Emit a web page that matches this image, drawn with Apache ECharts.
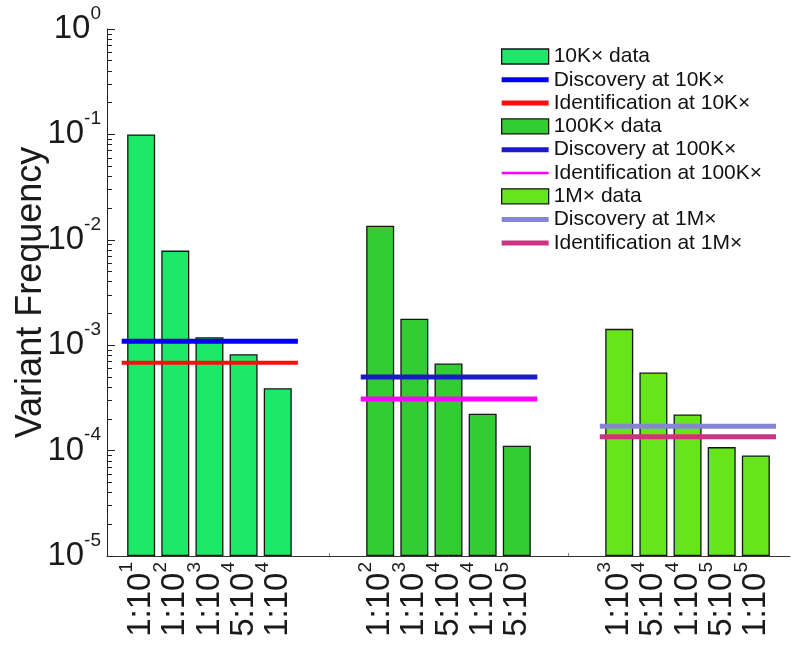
<!DOCTYPE html>
<html><head><meta charset="utf-8">
<script src="https://cdn.jsdelivr.net/npm/echarts@6/dist/echarts.min.js"></script>
<style>html,body{margin:0;padding:0;background:#fff}#c{width:800px;height:648px}</style>
</head><body><div id="c"></div>
<script>
// ---- data ----
const xPositions = [1,2,3,4,5, 8,9,10,11,12, 15,16,17,18,19];
const xTickLabels = ['1:10^1','1:10^2','1:10^3','5:10^4','1:10^4',
                     '1:10^2','1:10^3','5:10^4','1:10^4','5:10^5',
                     '1:10^3','5:10^4','1:10^4','5:10^5','1:10^5'];
const groupNames = ['10K×','100K×','1M×'];
const data10K  = [0.1, 7.9e-3, 1.19e-3, 8.2e-4, 3.9e-4];
const data100K = [1.36e-2, 1.78e-3, 6.7e-4, 2.24e-4, 1.11e-4];
const data1M   = [1.43e-3, 5.5e-4, 2.2e-4, 1.08e-4, 9.0e-5];
const discovery      = [1.09e-3, 4.99e-4, 1.70e-4];
const identification = [6.8e-4, 3.09e-4, 1.35e-4];
const groupSpans = [[0.43,5.59],[7.43,12.6],[14.43,19.59]];
const yTickExponents = [-5,-4,-3,-2,-1,0];

// ---- styles ----
const FONT = 'Liberation Sans';
const barColors = ['#1de86a','#33cc33','#66e61a'];
const discColors = ['#0000f2','#1a1acc','#8585d6'];
const identColors = ['#ff0d0d','#ff00ff','#cc3380'];
const groupData = [data10K, data100K, data1M];
const thickIcon = 'path://M0,0H94V10H0Z';
const thinIcon = 'path://M0,0H94V5H0Z';

const minorValues = [];
for (let e = -5; e < 0; e++) for (let k = 2; k <= 9; k++) minorValues.push(k * Math.pow(10, e));

// label order: first two and last two far apart so none is dropped by the min/max overlap check
const n = xPositions.length;
const labelOrder = [xPositions[0], xPositions[n - 1]]
  .concat(xPositions.slice(1, 5), xPositions.slice(6, n - 1), [xPositions[5]]);

function supLabel(base, exp) { return '{b|' + base + '}{s|' + exp + '}'; }
function makeRich(bs, ss, lh) {
  return {
    b: {fontSize: bs, fontFamily: FONT, color: '#1a1a1a', lineHeight: lh},
    s: {fontSize: ss, fontFamily: FONT, color: '#1a1a1a', lineHeight: ss, verticalAlign: 'top'}
  };
}

const series = [];
const legendData = [];
for (let g = 0; g < 3; g++) {
  const bName = groupNames[g] + ' data';
  series.push({
    type: 'bar', name: bName,
    data: groupData[g].map((v, i) => [xPositions[g * 5 + i], v]),
    barWidth: 28, barGap: '-100%',
    itemStyle: {color: barColors[g], borderColor: '#151515', borderWidth: 1.3}
  });
  legendData.push({name: bName, icon: 'rect', itemStyle: {borderColor: '#151515', borderWidth: 1.3}});
  const dName = 'Discovery at ' + groupNames[g];
  series.push({
    type: 'line', name: dName, symbol: 'none', z: 4,
    data: groupSpans[g].map(x => [x, discovery[g]]),
    lineStyle: {color: discColors[g], width: 5}, itemStyle: {color: discColors[g]}
  });
  legendData.push({name: dName, icon: thickIcon, itemStyle: {borderWidth: 0}});
  const iName = 'Identification at ' + groupNames[g];
  series.push({
    type: 'line', name: iName, symbol: 'none', z: 4,
    data: groupSpans[g].map(x => [x, identification[g]]),
    lineStyle: {color: identColors[g], width: g === 0 ? 4 : 5}, itemStyle: {color: identColors[g]}
  });
  legendData.push({name: iName, icon: g === 1 ? thinIcon : thickIcon, itemStyle: {borderWidth: 0}});
}

const chart = echarts.init(document.getElementById('c'), null, {renderer: 'canvas'});
chart.setOption({
  animation: false,
  backgroundColor: '#fff',
  grid: {left: 107, right: 10, top: 29, bottom: 92, containLabel: false, outerBoundsMode: 'none'},
  legend: {
    orient: 'vertical', left: 501, top: 46, padding: 0,
    itemWidth: 47, itemHeight: 15, itemGap: 2.3,
    textStyle: {fontSize: 21, fontFamily: FONT, color: '#111'},
    data: legendData
  },
  xAxis: {
    type: 'value', min: 0, max: 20,
    axisLine: {show: true, lineStyle: {color: '#333', width: 1}},
    splitLine: {show: false},
    axisTick: {show: true, inside: true, length: 3, customValues: [6.5, 13.5], lineStyle: {color: '#888'}},
    axisLabel: {
      customValues: labelOrder, rotate: 90, margin: 6, hideOverlap: false,
      formatter: function (v) {
        const idx = xPositions.indexOf(v);
        const parts = xTickLabels[idx].split('^');
        return supLabel(parts[0], parts[1]);
      },
      rich: makeRich(33, 19, 48)
    }
  },
  yAxis: [{
    type: 'log', logBase: 10, min: 1e-5, max: 1, startValue: 1e-5,
    axisLine: {show: true, lineStyle: {color: '#222', width: 1}},
    splitLine: {show: false},
    axisTick: {show: true, inside: true, length: 8, customValues: yTickExponents.map(e => Math.pow(10, e)), lineStyle: {color: '#222'}},
    axisLabel: {
      customValues: yTickExponents.map(e => Math.pow(10, e)), margin: 6,
      showMinLabel: true, showMaxLabel: true,
      formatter: function (v) { return supLabel('10', Math.round(Math.log10(v))); },
      rich: makeRich(33, 19, 50)
    },
    name: 'Variant Frequency', nameLocation: 'middle', nameGap: 58, nameMoveOverlap: false,
    nameTextStyle: {fontSize: 36, fontFamily: FONT, color: '#1a1a1a'}
  }, {
    type: 'log', logBase: 10, min: 1e-5, max: 1, position: 'left',
    axisLine: {show: false}, splitLine: {show: false}, axisLabel: {show: false},
    axisTick: {show: true, inside: true, length: 5, customValues: minorValues, lineStyle: {color: '#222'}}
  }],
  series: series
});
</script>
</body></html>
